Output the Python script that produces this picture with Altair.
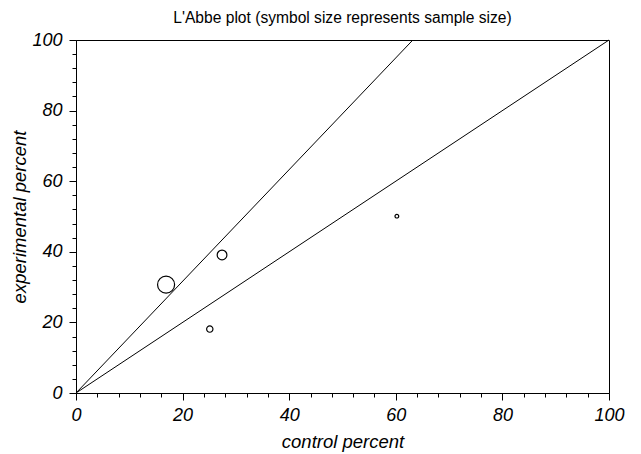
import altair as alt
import pandas as pd

# study points
control_pct = [16.9, 27.4, 25.1, 60.2]
experimental_pct = [30.7, 39.1, 18.1, 50.1]
sample_size = [290, 95, 40, 14]

# reference lines (equality line and pooled-effect line)
equal_x = [0, 100]
equal_y = [0, 100]
pooled_x = [0, 63.2]
pooled_y = [0, 100]

tick_values = list(range(0, 101, 4))

pts = pd.DataFrame({"control": control_pct, "experimental": experimental_pct, "n": sample_size})
lines = pd.DataFrame({
    "x": equal_x + pooled_x,
    "y": equal_y + pooled_y,
    "line": ["equal", "equal", "pooled", "pooled"],
})

FONT = "Liberation Sans"

xscale = alt.Scale(domain=[0, 100], nice=False, zero=False)
yscale = alt.Scale(domain=[0, 100], nice=False, zero=False)

label_expr = "datum.value % 20 == 0 ? datum.label : ''"
tick_size = {"condition": {"test": "datum.value % 20 === 0", "value": 7}, "value": 4}

xaxis = alt.Axis(
    values=tick_values, labelExpr=label_expr, labelOverlap=False, grid=False,
    title="control percent", titleFontStyle="italic", titleFontWeight="normal",
    titleFontSize=18.5, titleFont=FONT, titleColor="black", titlePadding=8,
    labelFont=FONT, labelFontSize=18, labelFontStyle="italic", labelColor="black",
    labelPadding=6, tickSize=tick_size, tickColor="black", domainColor="black",
    labelFlush=False,
)
yaxis = alt.Axis(
    values=tick_values, labelExpr=label_expr, labelOverlap=False, grid=False,
    title="experimental percent", titleFontStyle="italic", titleFontWeight="normal",
    titleFontSize=18.5, titleFont=FONT, titleColor="black", titlePadding=2,
    labelFont=FONT, labelFontSize=18, labelFontStyle="italic", labelColor="black",
    labelPadding=7, tickSize=tick_size, tickColor="black", domainColor="black",
    labelFlush=False, labelBaseline="middle",
)

line_layer = alt.Chart(lines).mark_line(color="black", strokeWidth=1).encode(
    x=alt.X("x:Q", scale=xscale, axis=xaxis),
    y=alt.Y("y:Q", scale=yscale, axis=yaxis),
    detail="line:N",
)

pt_layer = alt.Chart(pts).mark_point(filled=False, color="black", strokeWidth=1.2, opacity=1).encode(
    x=alt.X("control:Q", scale=xscale, axis=xaxis),
    y=alt.Y("experimental:Q", scale=yscale, axis=yaxis),
    size=alt.Size("n:Q", scale=None, legend=None),
)

chart = alt.layer(line_layer, pt_layer).properties(
    width=533, height=353,
    background="white",
    title=alt.TitleParams(
        "L'Abbe plot (symbol size represents sample size)",
        font=FONT, fontSize=15.6, fontWeight="normal", color="black",
        anchor="middle", offset=4, frame="group",
    ),
    autosize=alt.AutoSizeParams(type="none"),
    padding={"left": 68, "top": 32, "right": 24, "bottom": 60},
).configure_view(stroke="black", strokeWidth=1)

chart.save("out.html", embed_options={"renderer": "svg", "actions": False})
